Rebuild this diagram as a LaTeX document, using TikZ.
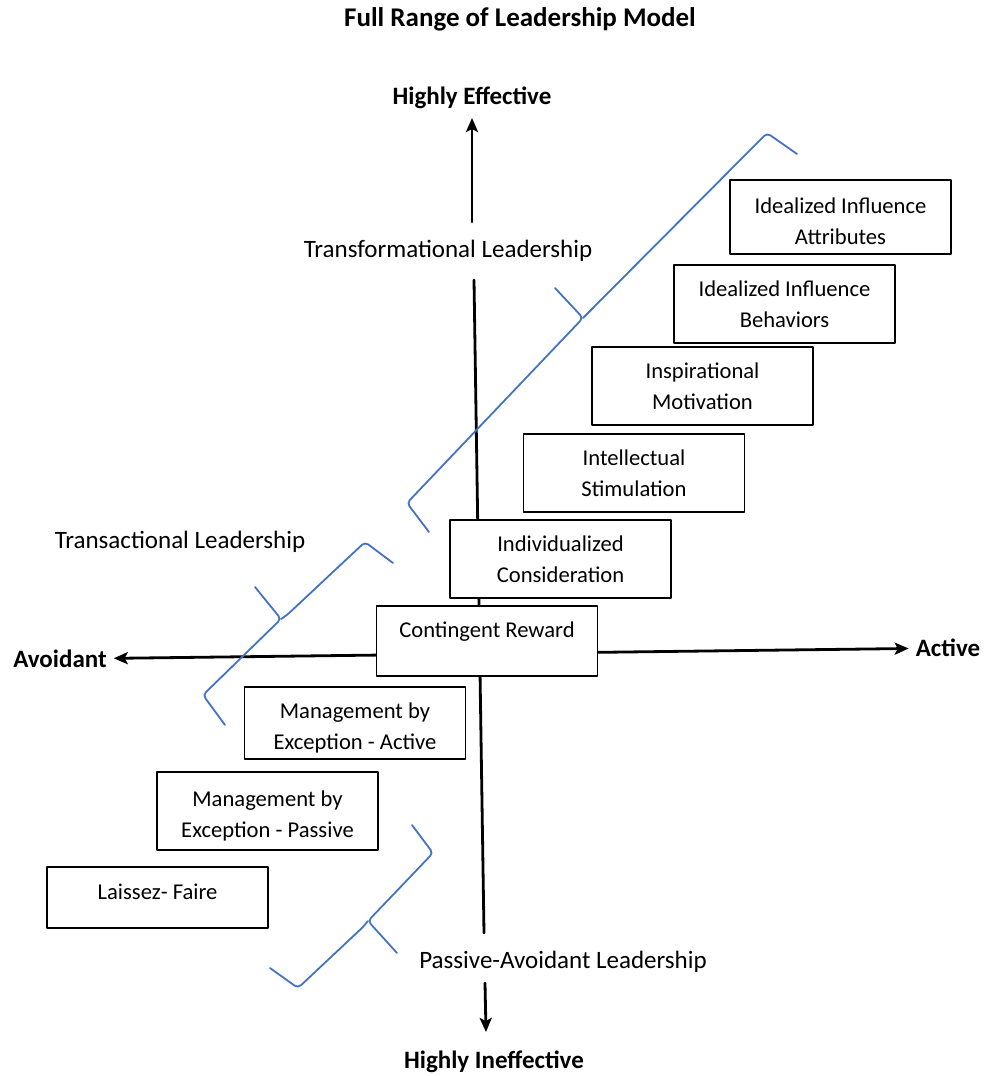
\documentclass[tikz,border=0pt]{standalone}
\usepackage{fontspec}
\setmainfont{Carlito}
\usepackage{xcolor}
\usetikzlibrary{arrows.meta}
\definecolor{bracketblue}{RGB}{68,114,196}
\newcommand{\lowtop}{\rule{0pt}{12.5pt}}

\begin{document}
\begin{tikzpicture}[x=0.5pt, y=-0.5pt, line cap=round, line join=round,
    >={Stealth[length=7pt, width=6pt, inset=1.5pt]},
    axis/.style={line width=1.4pt},
    factor/.style={draw, line width=0.7pt, fill=white, align=center,
      minimum width=110.5pt, minimum height=39pt, inner sep=2pt,
      font=\fontsize{11.3}{15.5}\selectfont},
    bracket/.style={draw=bracketblue, line width=0.9pt, rounded corners=2pt},
    axislabel/.style={font=\fontsize{12.5}{15}\selectfont\bfseries},
    stylelabel/.style={font=\fontsize{12.5}{15}\selectfont}]
  \useasboundingbox (0,0) rectangle (984,1076);
  %--- Title and axis ends
    \node[axislabel, font=\fontsize{13.5}{16}\selectfont\bfseries] (title) at (520,19) {Full Range of Leadership Model};
    \node[axislabel] (effective) at (472,98) {Highly Effective};
    \node[axislabel] (ineffective) at (494,1062) {Highly Ineffective};
    \node[axislabel] (avoidant) at (60,659) {Avoidant};
    \node[axislabel] (active) at (948,648) {Active};
  %--- Leadership styles
    \node[stylelabel] (transformational) at (448,251) {Transformational Leadership};
    \node[stylelabel] (transactional) at (180,542) {Transactional Leadership};
    \node[stylelabel] (passive) at (563,962) {Passive-Avoidant Leadership};
  %--- Axes
    \coordinate (effTip) at (472,118);
    \coordinate (transTop) at (472,222);
    \coordinate (transBot) at (474,280);
    \coordinate (passTop) at (484,933);
    \coordinate (passBot) at (485,983);
    \coordinate (inefTip) at (486,1032);
    \draw[axis, ->] (transTop) -- (effTip);
    \draw[axis] (transBot) -- (passTop);
    \draw[axis, ->] (passBot) -- (inefTip);
    \draw[axis, <->] (avoidant) -- (active);
  %--- Factors
    \node[factor, minimum height=37pt] (attributes) at (840.5,217) {\lowtop Idealized Influence\\Attributes};
    \node[factor] (behaviors) at (784.5,304) {Idealized Influence\\Behaviors};
    \node[factor] (motivation) at (702.5,386) {Inspirational\\Motivation};
    \node[factor] (stimulation) at (634,473) {Intellectual\\Stimulation};
    \node[factor] (consideration) at (560.5,559) {Individualized\\Consideration};
    \node[factor, minimum height=35pt, text depth=11pt] (reward) at (487,641) {Contingent Reward};
    \node[factor, minimum height=36pt] (mbeactive) at (355,723) {\lowtop Management by\\Exception - Active};
    \node[factor] (mbepassive) at (267.5,811) {\lowtop Management by\\Exception - Passive};
    \node[factor, minimum height=30.5pt, text depth=6pt] (laissez) at (157.5,897.5) {Laissez- Faire};
  %--- Brackets
    \draw[bracket] (429,532) -- (407,503) -- (583,318) -- (555,288);
    \draw[bracket] (583,318) -- (588,313) -- (767,133) -- (797,154);
    \draw[bracket] (225,725) -- (203,695) -- (281,619) -- (255,587);
    \draw[bracket] (281,619) -- (287,615) -- (365,542) -- (393,563);
    \draw[bracket] (412,825) -- (433,853) -- (368,921) -- (397,953);
    \draw[bracket] (368,921) -- (363,927) -- (298,988) -- (270,968);
\end{tikzpicture}
\end{document}
